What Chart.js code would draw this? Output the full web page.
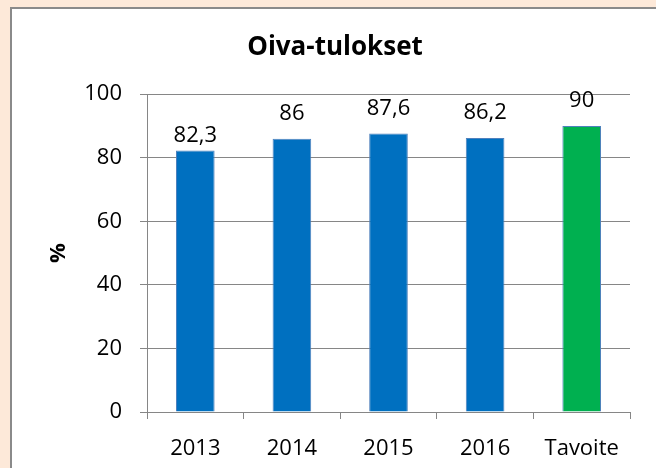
<!DOCTYPE html>
<html>
<head>
<meta charset="utf-8">
<script src="https://cdn.jsdelivr.net/npm/chart.js@4/dist/chart.umd.min.js"></script>
<style>
  body { margin: 0; background: #FDE9D9; overflow: hidden; }
  .frame {
    position: absolute; left: 10px; top: 7px; width: 660px; height: 470px;
    background: #fff; border-left: 2px solid #8a8a8a; border-top: 2px solid #8a8a8a;
  }
  #chart { position: absolute; left: 0; top: 0; }
</style>
</head>
<body>
<div class="frame"></div>
<canvas id="chart" width="656" height="468"></canvas>
<script>
// Oiva-tulokset
const categories = ['2013', '2014', '2015', '2016', 'Tavoite'];
const results = [82.3, 86, 87.6, 86.2, 90];
const yTicks = [0, 20, 40, 60, 80, 100];

const barColors = ['#0070C0', '#0070C0', '#0070C0', '#0070C0', '#00B050'];
const gridColor = '#868686';
const fontFamily = '"Open Sans", "Liberation Sans", sans-serif';

// value labels above bars, finnish decimal comma
const valueLabels = {
    id: 'valueLabels',
    afterDatasetsDraw(chart, args, opts) {
        const ctx = chart.ctx;
        const meta = chart.getDatasetMeta(0);
        ctx.save();
        ctx.font = '22px ' + fontFamily;
        ctx.fillStyle = '#000';
        ctx.textAlign = 'center';
        ctx.textBaseline = 'middle';
        meta.data.forEach((bar, i) => {
            const text = String(results[i]).replace('.', ',');
            ctx.fillText(text, bar.x, bar.y - opts.lift[i]);
        });
        ctx.restore();
    }
};

new Chart(document.getElementById('chart').getContext('2d'), {
    type: 'bar',
    data: {
        labels: categories,
        datasets: [{
            data: results,
            backgroundColor: barColors,
            borderColor: '#4F81BD',
            borderWidth: 1,
            barPercentage: 0.4,
            categoryPercentage: 1
        }]
    },
    options: {
        responsive: false,
        animation: false,
        layout: { padding: { left: 40, right: 26, top: 32, bottom: 10 } },
        plugins: {
            legend: { display: false },
            tooltip: { enabled: false },
            title: {
                display: true,
                text: 'Oiva-tulokset',
                color: '#000',
                font: { family: fontFamily, size: 26, weight: 'bold' },
                padding: { top: 0, bottom: 31 }
            },
            valueLabels: { lift: [15, 25, 25, 25, 25] }
        },
        scales: {
            x: {
                afterFit: (scale) => { scale.height = 46; },
                grid: {
                    offset: true,
                    drawOnChartArea: false,
                    color: gridColor,
                    tickLength: 7
                },
                border: { color: gridColor, width: 1 },
                ticks: {
                    color: '#000',
                    padding: 17,
                    font: { family: fontFamily, size: 22 }
                }
            },
            y: {
                min: 0,
                max: 100,
                afterBuildTicks: (scale) => {
                    scale.ticks = yTicks.map(v => ({ value: v }));
                },
                afterFit: (scale) => { scale.width = 107; },
                grid: { color: gridColor, tickLength: 7 },
                border: { color: gridColor, width: 1 },
                ticks: {
                    color: '#000',
                    padding: 18,
                    font: { family: fontFamily, size: 22 }
                },
                title: {
                    display: true,
                    text: '%',
                    color: '#000',
                    font: { family: fontFamily, size: 22, weight: 'bold' },
                    padding: { top: 6 }
                }
            }
        }
    },
    plugins: [valueLabels]
});
</script>
</body>
</html>
